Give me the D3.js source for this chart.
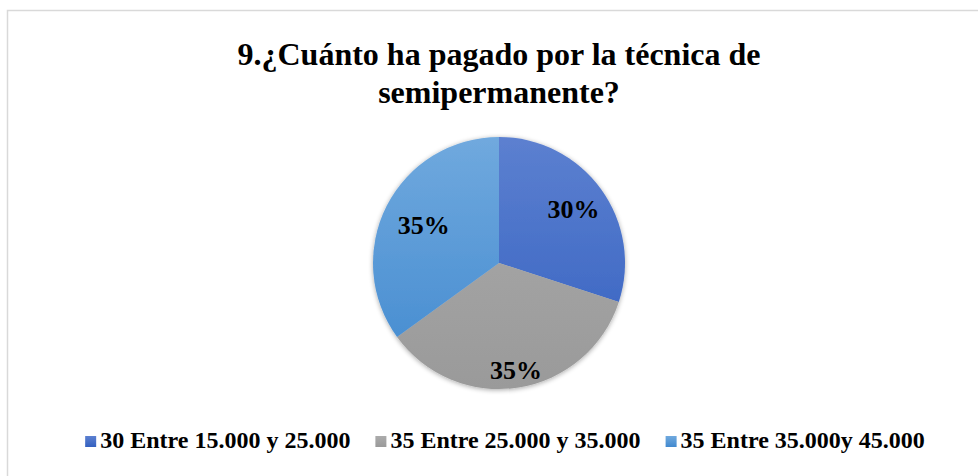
<!DOCTYPE html>
<html>
<head>
<meta charset="utf-8">
<script src="https://cdn.jsdelivr.net/npm/d3@7"></script>
<style>
  html, body { margin: 0; padding: 0; background: #fff; }
  svg { display: block; }
</style>
</head>
<body>
<svg id="chart" width="978" height="476"></svg>
<script>
// data
const titleLines = ['9.¿Cuánto ha pagado por la técnica de', 'semipermanente?'];
const categories = ['30 Entre 15.000 y 25.000', '35 Entre 25.000 y 35.000', '35 Entre 35.000y 45.000'];
const values = [30, 35, 35];
const labels = ['30%', '35%', '35%'];
const colorsTop = ['#5c80d0', '#ababab', '#70a9de'];
const colorsBottom = ['#3360c0', '#9a9a9a', '#4189cf'];

const W = 978, H = 476;
const cx = 499, cy = 263, r = 126;
const font = '"Liberation Serif", "Times New Roman", serif';
// how far out each label sits (fraction of radius), like excel best fit
const labelFrac = [0.73, 0.86, 0.67];

const svg = d3.select('#chart');

// chart area border (only top/left visible in frame)
svg.append('rect')
  .attr('x', 7.5).attr('y', 10.5)
  .attr('width', W + 20).attr('height', H + 20)
  .attr('fill', '#fff')
  .attr('stroke', '#d9d9d9')
  .attr('stroke-width', 1.5);

// title
svg.append('g')
  .selectAll('text')
  .data(titleLines)
  .join('text')
  .attr('x', cx)
  .attr('y', (d, i) => 65 + i * 38)
  .attr('text-anchor', 'middle')
  .attr('font-family', font)
  .attr('font-weight', 'bold')
  .attr('font-size', 32)
  .attr('fill', '#000')
  .text((d) => d);

const defs = svg.append('defs');
values.forEach((v, i) => {
  const g = defs.append('linearGradient')
    .attr('id', 'grad' + i)
    .attr('gradientUnits', 'userSpaceOnUse')
    .attr('x1', 0).attr('y1', -r)
    .attr('x2', 0).attr('y2', r);
  g.append('stop').attr('offset', '0%').attr('stop-color', colorsTop[i]);
  g.append('stop').attr('offset', '100%').attr('stop-color', colorsBottom[i]);

  const lg = defs.append('linearGradient').attr('id', 'lg' + i)
    .attr('x1', 0).attr('y1', 0).attr('x2', 0).attr('y2', 1);
  lg.append('stop').attr('offset', '0%').attr('stop-color', colorsTop[i]);
  lg.append('stop').attr('offset', '100%').attr('stop-color', colorsBottom[i]);
});
const shadow = defs.append('filter').attr('id', 'shadow')
  .attr('x', '-20%').attr('y', '-20%').attr('width', '140%').attr('height', '140%');
shadow.append('feGaussianBlur').attr('in', 'SourceAlpha').attr('stdDeviation', 2.5);
shadow.append('feOffset').attr('dx', 0).attr('dy', 1).attr('result', 'b');
shadow.append('feComponentTransfer').append('feFuncA').attr('type', 'linear').attr('slope', 0.35);
const merge = shadow.append('feMerge');
merge.append('feMergeNode');
merge.append('feMergeNode').attr('in', 'SourceGraphic');

const pie = d3.pie().sort(null).value((d) => d);
const arcs = pie(values);
const arc = d3.arc().innerRadius(0).outerRadius(r);

svg.append('g')
  .attr('transform', `translate(${cx},${cy})`)
  .attr('filter', 'url(#shadow)')
  .selectAll('path')
  .data(arcs)
  .join('path')
  .attr('d', arc)
  .attr('fill', (d, i) => `url(#grad${i})`);

// data labels
svg.append('g')
  .attr('transform', `translate(${cx},${cy})`)
  .selectAll('text')
  .data(arcs)
  .join('text')
  .attr('transform', (d, i) => {
    const lr = r * labelFrac[i];
    const [x, y] = d3.arc().innerRadius(lr).outerRadius(lr).centroid(d);
    return `translate(${x},${y})`;
  })
  .attr('text-anchor', 'middle')
  .attr('dy', '0.35em')
  .attr('font-family', font)
  .attr('font-weight', 'bold')
  .attr('font-size', 26)
  .attr('fill', '#000')
  .text((d, i) => labels[i]);

// legend
const items = svg.append('g')
  .selectAll('g')
  .data(categories)
  .join('g');
items.append('rect')
  .attr('width', 11).attr('height', 11)
  .attr('y', 436)
  .attr('fill', (d, i) => `url(#lg${i})`);
items.append('text')
  .attr('x', 15)
  .attr('y', 448)
  .attr('font-family', font)
  .attr('font-weight', 'bold')
  .attr('font-size', 24)
  .attr('fill', '#000')
  .text((d) => d);

// lay the items out in one centered row
const gap = 25;
const widths = [];
items.each(function () { widths.push(this.getBBox().width); });
const total = d3.sum(widths) + gap * (widths.length - 1);
let x0 = 505 - total / 2;
items.attr('transform', (d, i) => {
  const t = `translate(${x0},0)`;
  x0 += widths[i] + gap;
  return t;
});
</script>
</body>
</html>
